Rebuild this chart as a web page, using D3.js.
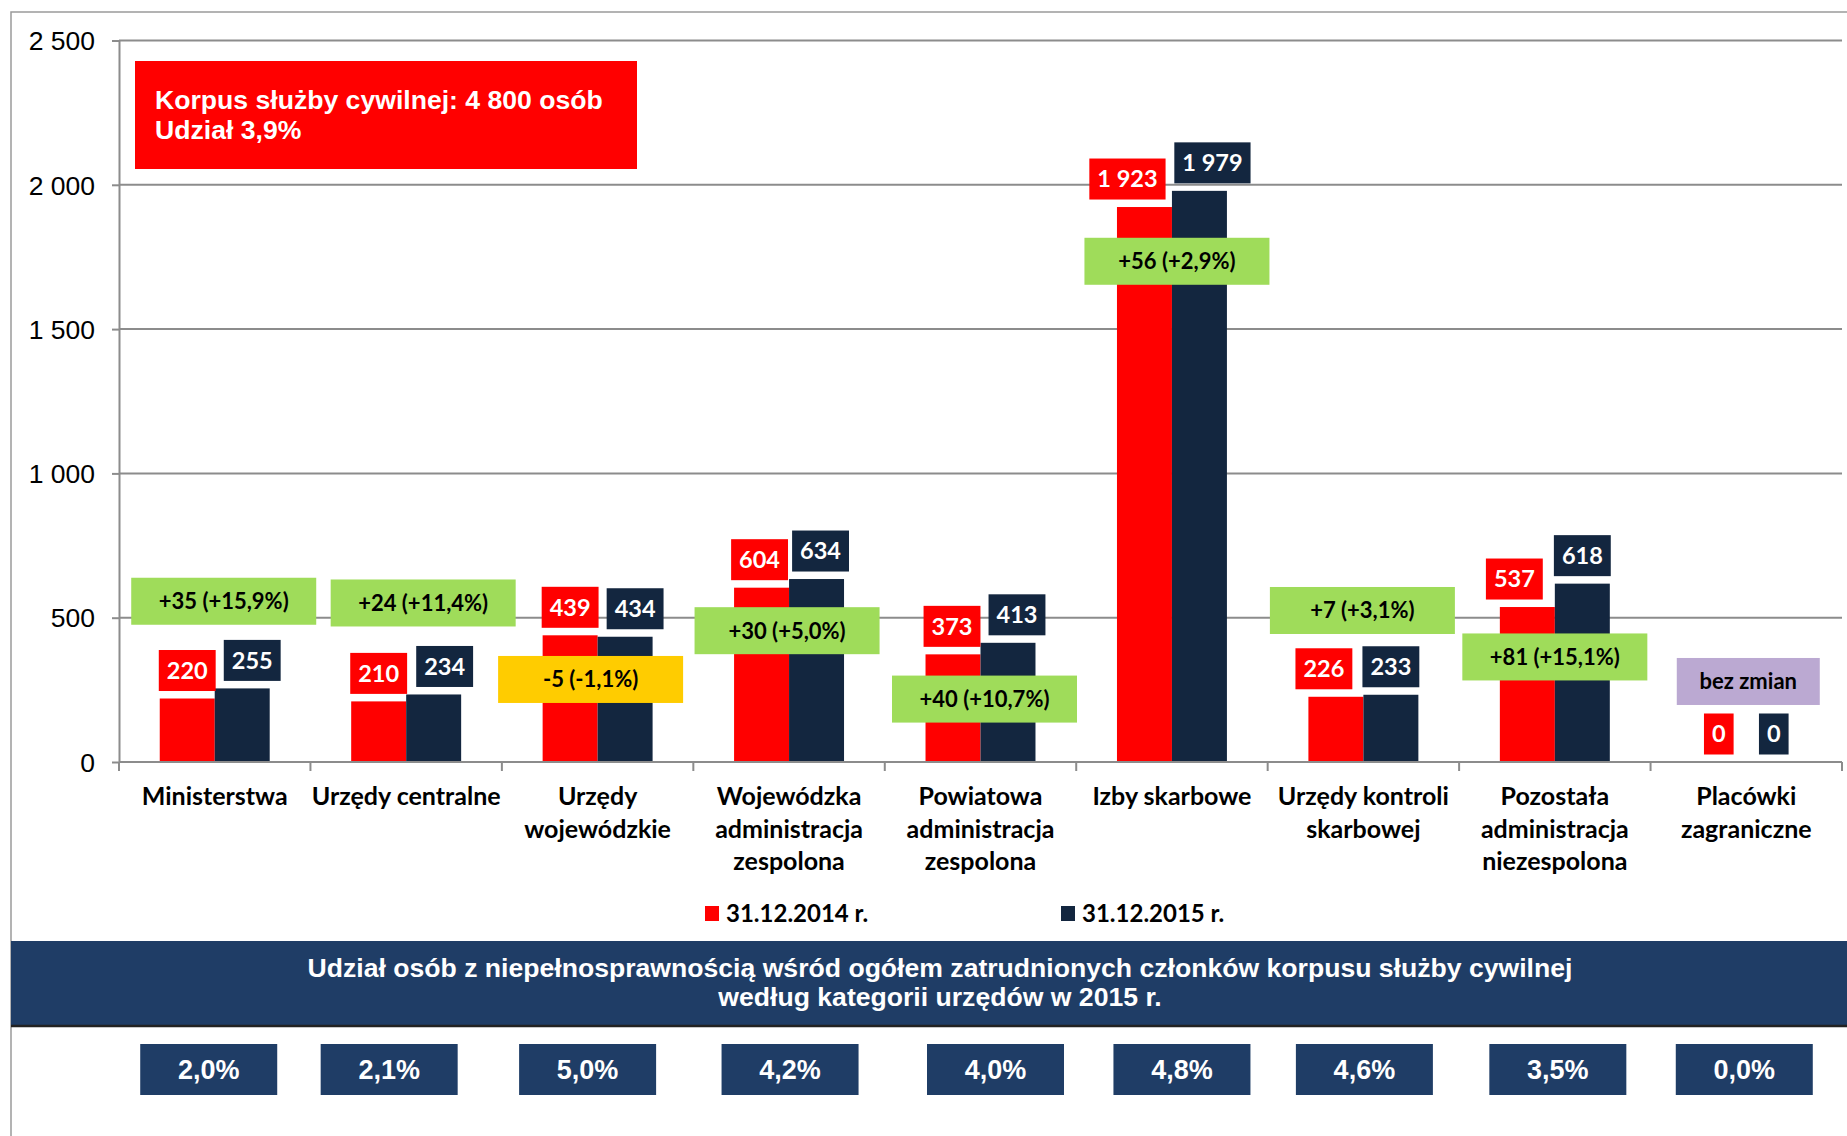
<!DOCTYPE html>
<html><head><meta charset="utf-8">
<script src="https://cdn.jsdelivr.net/npm/d3@7"></script>
<style>body{margin:0;background:#fff;} svg{display:block}</style>
</head><body><svg id="c" width="1847" height="1136"></svg>
<script>
// ---------- DATA ----------
const categories = ["Ministerstwa","Urzędy centralne","Urzędy\nwojewódzkie","Wojewódzka\nadministracja\nzespolona","Powiatowa\nadministracja\nzespolona","Izby skarbowe","Urzędy kontroli\nskarbowej","Pozostała\nadministracja\nniezespolona","Placówki\nzagraniczne"];
const values2014 = [220,210,439,604,373,1923,226,537,0];
const values2015 = [255,234,434,634,413,1979,233,618,0];
const changeLabels = ["+35 (+15,9%)","+24 (+11,4%)","-5 (-1,1%)","+30 (+5,0%)","+40 (+10,7%)","+56 (+2,9%)","+7 (+3,1%)","+81 (+15,1%)","bez zmian"];
const changeKind = ["up","up","down","up","up","up","up","up","same"];
const disabilityShare = ["2,0%","2,1%","5,0%","4,2%","4,0%","4,8%","4,6%","3,5%","0,0%"];
const seriesNames = ["31.12.2014 r.","31.12.2015 r."];
const yTicks = [0,500,1000,1500,2000,2500];
const titleLines = ["Korpus służby cywilnej: 4 800 osób","Udział 3,9%"];
const bannerLines = ["Udział osób z niepełnosprawnością wśród ogółem zatrudnionych członków korpusu służby cywilnej","według kategorii urzędów w 2015 r."];

// ---------- LAYOUT (positions of annotation boxes) ----------
const changeBoxCenter = [557,551,286,455,218,1735,525,364,279]; // in value units
const changeBoxDX = [9,17,-7,-2,4,5,-1,0,2];
const changeBoxW = [185,185,185,185,185,185,185,185,143];
const redLabelDX = [0,0,0,-2,-1,-17,-12,-13,0];
const navyLabelDX = [10,11,10,4,9,13,0,0,0];
const shareBoxDX = [-6,-17,-10,1,15,10,1,3,-2];

const colors = {red:"#FF0000", navy:"#13263F", up:"#9FDC5A", down:"#FFCC00", same:"#BBA9D2", banner:"#1F3D66", grid:"#8C8C8C"};
const LATO = "Lato, 'Open Sans', sans-serif";
const ARIAL = "'Liberation Sans', Arial, sans-serif";

const svg = d3.select("#c");
const loc = d3.formatLocale({decimal:",", thousands:"\u00a0", grouping:[3], currency:["",""]});
const fmt = loc.format(",d");

// frame
svg.append("rect").attr("x",11).attr("y",12).attr("width",1847).attr("height",1200)
  .attr("fill","none").attr("stroke","#9a9a9a").attr("stroke-width",1.5);

const x = d3.scaleBand().domain(categories).range([119,1842]).paddingInner(0).paddingOuter(0);
const x1 = d3.scaleBand().domain([0,1]).range([0,x.bandwidth()]).paddingInner(0).paddingOuter(0.741);
const y = d3.scaleLinear().domain([0,2500]).range([762,40.5]);

// gridlines
svg.append("g").selectAll("line").data(yTicks.filter(d=>d>0)).join("line")
  .attr("x1",119).attr("x2",1842).attr("y1",d=>y(d)).attr("y2",d=>y(d))
  .attr("stroke",colors.grid).attr("stroke-width",2);

// y axis
const yAxis = svg.append("g").attr("transform","translate(119,0)")
  .call(d3.axisLeft(y).tickValues(yTicks).tickFormat(d=>fmt(d)).tickSize(7).tickSizeOuter(0).tickPadding(17));
yAxis.select(".domain").attr("stroke",colors.grid).attr("stroke-width",2);
yAxis.selectAll(".tick line").attr("stroke",colors.grid).attr("stroke-width",2);
yAxis.selectAll(".tick text").attr("font-family",ARIAL).attr("font-size",26.5).attr("fill","#000").attr("dy","0.35em");

// bars
const groups = svg.append("g").selectAll("g").data(categories).join("g")
  .attr("transform",d=>`translate(${x(d)},0)`);
groups.append("rect").attr("x",x1(0)).attr("width",x1.bandwidth())
  .attr("y",(d,i)=>y(values2014[i])).attr("height",(d,i)=>y(0)-y(values2014[i])).attr("fill",colors.red);
groups.append("rect").attr("x",x1(1)).attr("width",x1.bandwidth())
  .attr("y",(d,i)=>y(values2015[i])).attr("height",(d,i)=>y(0)-y(values2015[i])).attr("fill",colors.navy);

// x axis
svg.append("line").attr("x1",119).attr("x2",1842).attr("y1",y(0)).attr("y2",y(0))
  .attr("stroke",colors.grid).attr("stroke-width",2);
const bounds = categories.map(d=>x(d)).concat([x.range()[1]]);
svg.append("g").selectAll("line").data(bounds).join("line")
  .attr("x1",d=>d).attr("x2",d=>d).attr("y1",y(0)).attr("y2",y(0)+9)
  .attr("stroke",colors.grid).attr("stroke-width",2);

// category labels
svg.append("g").selectAll("text").data(categories).join("text")
  .attr("x",d=>x(d)+x.bandwidth()/2).attr("y",805)
  .attr("text-anchor","middle").attr("font-family",LATO).attr("font-weight",700).attr("font-size",25).attr("fill","#000")
  .each(function(d){
    const t=d3.select(this);
    d.split("\n").forEach((s,k)=>t.append("tspan").attr("x",x(d)+x.bandwidth()/2).attr("dy",k?32.5:0).text(s));
  });

// value label boxes
function valueLabel(vals, series, dxArr, fill){
  const g = svg.append("g").selectAll("g").data(categories).join("g");
  g.each(function(d,i){
    const cx = x(d)+x1(series)+x1.bandwidth()/2+dxArr[i];
    const bottom = y(vals[i])-7.5;
    const gg = d3.select(this);
    const r = gg.append("rect").attr("fill",fill);
    const t = gg.append("text").attr("x",cx).attr("y",bottom-20.5).attr("dy","0.36em")
      .attr("text-anchor","middle").attr("font-family",LATO).attr("font-weight",700).attr("font-size",23.5)
      .attr("fill","#fff").text(fmt(vals[i]));
    const w = t.node().getComputedTextLength()+16;
    r.attr("x",cx-w/2).attr("width",w).attr("y",bottom-41).attr("height",41);
  });
}
valueLabel(values2014,0,redLabelDX,colors.red);
valueLabel(values2015,1,navyLabelDX,colors.navy);

// change boxes
const cb = svg.append("g").selectAll("g").data(categories).join("g");
cb.append("rect").attr("x",(d,i)=>x(d)+x.bandwidth()/2+changeBoxDX[i]-changeBoxW[i]/2).attr("width",(d,i)=>changeBoxW[i])
  .attr("y",(d,i)=>y(changeBoxCenter[i])-23.5).attr("height",47).attr("fill",(d,i)=>colors[changeKind[i]]);
cb.append("text").attr("x",(d,i)=>x(d)+x.bandwidth()/2+changeBoxDX[i]).attr("y",(d,i)=>y(changeBoxCenter[i]))
  .attr("dy","0.36em").attr("text-anchor","middle").attr("font-family",LATO).attr("font-weight",700)
  .attr("font-size",22).attr("fill","#000").text((d,i)=>changeLabels[i]);

// title box
svg.append("rect").attr("x",135).attr("y",61).attr("width",502).attr("height",108).attr("fill",colors.red);
svg.append("g").selectAll("text").data(titleLines).join("text")
  .attr("x",155).attr("y",(d,i)=>109+i*30).attr("font-family",ARIAL).attr("font-weight",700)
  .attr("font-size",26.6).attr("fill","#fff").text(d=>d);

// legend
const legX = [705,1061];
const lg = svg.append("g").selectAll("g").data(seriesNames).join("g");
lg.append("rect").attr("x",(d,i)=>legX[i]).attr("y",906).attr("width",14).attr("height",15)
  .attr("fill",(d,i)=>i?colors.navy:colors.red);
lg.append("text").attr("x",(d,i)=>legX[i]+21).attr("y",922).attr("font-family",LATO).attr("font-weight",700)
  .attr("font-size",24).attr("fill","#000").text(d=>d);

// banner
svg.append("rect").attr("x",11).attr("y",941).attr("width",1836).attr("height",85).attr("fill",colors.banner);
svg.append("line").attr("x1",11).attr("x2",1847).attr("y1",1026).attr("y2",1026).attr("stroke","#222").attr("stroke-width",2.5);
svg.append("g").selectAll("text").data(bannerLines).join("text")
  .attr("x",940).attr("y",(d,i)=>977+i*29).attr("text-anchor","middle").attr("font-family",ARIAL)
  .attr("font-weight",700).attr("font-size",26.6).attr("fill","#fff").text(d=>d);

// share boxes
const sb = svg.append("g").selectAll("g").data(categories).join("g");
sb.append("rect").attr("x",(d,i)=>x(d)+x.bandwidth()/2+shareBoxDX[i]-68.5).attr("width",137)
  .attr("y",1044).attr("height",51).attr("fill",colors.banner);
sb.append("text").attr("x",(d,i)=>x(d)+x.bandwidth()/2+shareBoxDX[i]).attr("y",1069.5).attr("dy","0.36em")
  .attr("text-anchor","middle").attr("font-family",ARIAL).attr("font-weight",700).attr("font-size",27)
  .attr("fill","#fff").text((d,i)=>disabilityShare[i]);
</script></body></html>
